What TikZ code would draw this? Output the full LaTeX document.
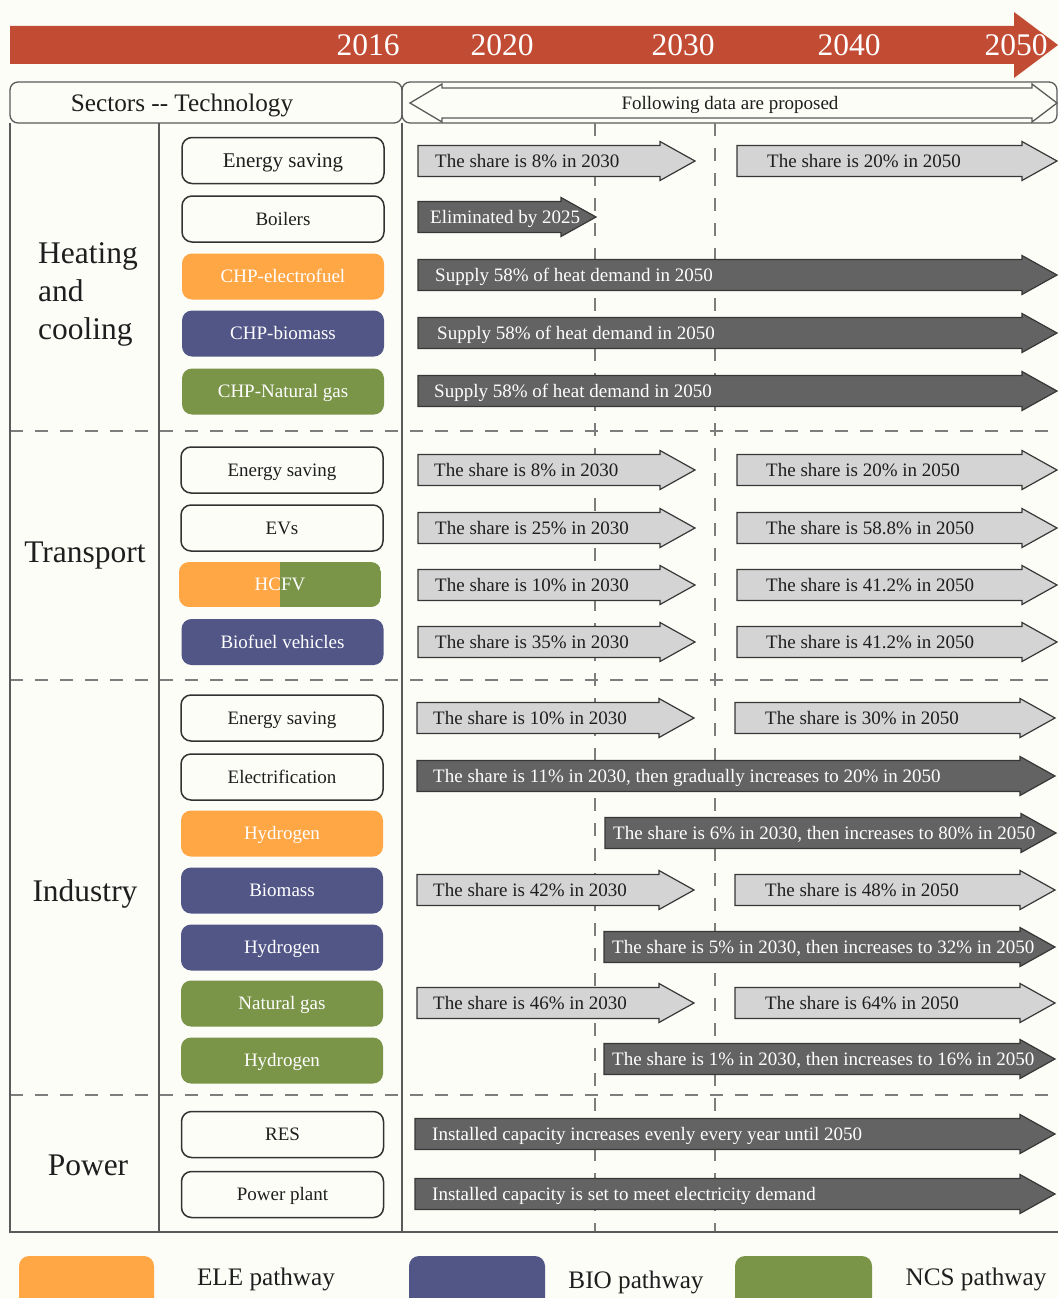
\documentclass[tikz,border=0pt]{standalone}
\usepackage{fontspec}
\setmainfont{Liberation Serif}
\definecolor{bgcol}{RGB}{253,253,248}
\definecolor{redcol}{RGB}{194,75,52}
\definecolor{framecol}{RGB}{90,90,90}
\definecolor{dashcol}{RGB}{125,125,125}
\definecolor{boxline}{RGB}{50,50,50}
\definecolor{elecol}{RGB}{255,166,69}
\definecolor{biocol}{RGB}{81,86,135}
\definecolor{ncscol}{RGB}{122,148,72}
\definecolor{lightfill}{RGB}{212,212,212}
\definecolor{darkfill}{RGB}{99,99,99}
\definecolor{arrline}{RGB}{55,55,55}
\definecolor{txtcol}{RGB}{30,30,30}
\newcommand{\dataArrow}[7]{%
  \draw[#2arr] (#3,#5-15.5) -- (#4-35,#5-15.5) -- (#4-35,#5-19.5) -- (#4,#5)
     -- (#4-35,#5+19.5) -- (#4-35,#5+15.5) -- (#3,#5+15.5) -- cycle;
  \node[#2txt] (#1) at (#6,#5+6.5) {#7};
}
\begin{document}
\begin{tikzpicture}[x=1pt,y=-1pt,
  frame/.style={draw=framecol, line width=1.3pt},
  griddash/.style={draw=dashcol, line width=2pt, dash pattern=on 13pt off 12pt},
  techbox/.style={rectangle, rounded corners=10pt, minimum width=202pt, minimum height=46pt,
     inner sep=0pt, font=\fontsize{19}{22}\selectfont, text height=12.5pt, text depth=0pt},
  whitebox/.style={techbox, draw=boxline, line width=1.5pt, fill=bgcol, text=txtcol},
  elebox/.style={techbox, fill=elecol, text=white},
  biobox/.style={techbox, fill=biocol, text=white},
  ncsbox/.style={techbox, fill=ncscol, text=white},
  lightarr/.style={fill=lightfill, draw=arrline, line width=1.2pt},
  darkarr/.style={fill=darkfill, draw=arrline, line width=1.2pt},
  lighttxt/.style={anchor=base west, inner sep=0pt, font=\fontsize{19}{22}\selectfont, text=txtcol},
  darktxt/.style={anchor=base west, inner sep=0pt, font=\fontsize{19}{22}\selectfont, text=white},
  yeartxt/.style={anchor=base, inner sep=0pt, font=\fontsize{31.5}{36}\selectfont, text=white},
  sectortxt/.style={inner sep=0pt, font=\fontsize{31.5}{38}\selectfont, text=txtcol},
  legtxt/.style={anchor=base, inner sep=0pt, font=\fontsize{25.2}{30}\selectfont, text=txtcol},
  legbox/.style={rounded corners=10pt}
]
\useasboundingbox (0,0) rectangle (1058,1298);
\fill[bgcol] (0,0) rectangle (1058,1298);

% timeline arrow
\fill[redcol] (10,26) -- (1014,26) -- (1014,12) -- (1058,45) -- (1014,78) -- (1014,64) -- (10,64) -- cycle;
\node[yeartxt] (y2016) at (368,56) {2016};
\node[yeartxt] (y2020) at (502,56) {2020};
\node[yeartxt] (y2030) at (683,56) {2030};
\node[yeartxt] (y2040) at (849,56) {2040};
\node[yeartxt] (y2050) at (1016,56) {2050};

% header
\draw[frame, rounded corners=8pt] (10,82) rectangle (402,123);
\draw[frame, rounded corners=8pt] (402,82) rectangle (1057,123);
\draw[frame, fill=bgcol] (410,103) -- (442,84) -- (442,88) -- (1032,88) -- (1032,84) -- (1057,103)
   -- (1032,122) -- (1032,118) -- (442,118) -- (442,122) -- cycle;
\node[anchor=base, inner sep=0pt, font=\fontsize{25.2}{30}\selectfont, text=txtcol] (hsec) at (182,111) {Sectors -{}- Technology};
\node[anchor=base, inner sep=0pt, font=\fontsize{19}{22}\selectfont, text=txtcol] (hdata) at (730,109.5) {Following data are proposed};

% dashed grid
\draw[griddash] (595,123) -- (595,1232);
\draw[griddash] (715,123) -- (715,1232);
\draw[griddash] (10,431) -- (1058,431);
\draw[griddash] (10,680) -- (1058,680);
\draw[griddash] (10,1095) -- (1058,1095);

% frame
\draw[frame] (10,123) -- (10,1232) -- (1058,1232);
\draw[frame] (159,123) -- (159,1232);
\draw[frame] (402,123) -- (402,1232);

% sector labels
\node[sectortxt, anchor=west, align=left] (sheat) at (38,294.6) {Heating\\and\\cooling};
\node[sectortxt, anchor=base] (strans) at (85,562) {Transport};
\node[sectortxt, anchor=base] (sind) at (85,901) {Industry};
\node[sectortxt, anchor=base] (spow) at (88,1175) {Power};

% technology boxes
\node[whitebox, font=\fontsize{21}{24}\selectfont, text height=13.8pt] (t1) at (283,160.5) {Energy saving};
\node[whitebox] (t2) at (283,219) {Boilers};
\node[elebox] (t3) at (283,276.5) {CHP-electrofuel};
\node[biobox] (t4) at (283,333.5) {CHP-biomass};
\node[ncsbox] (t5) at (283,391.5) {CHP-Natural gas};

\node[whitebox] (t6) at (282,470) {Energy saving};
\node[whitebox] (t7) at (282,528) {EVs};
\begin{scope}
  \clip[rounded corners=10pt] (179,562) rectangle (381,607);
  \fill[elecol] (179,562) rectangle (280,607);
  \fill[ncscol] (280,562) rectangle (381,607);
\end{scope}
\node[techbox, text=white] (t8) at (280,584.5) {HCFV};
\node[biobox] (t9) at (282.5,642) {Biofuel vehicles};

\node[whitebox] (t10) at (282,718) {Energy saving};
\node[whitebox] (t11) at (282,777) {Electrification};
\node[elebox] (t12) at (282,833.5) {Hydrogen};
\node[biobox] (t13) at (282,890.5) {Biomass};
\node[biobox] (t14) at (282,947.5) {Hydrogen};
\node[ncsbox] (t15) at (282,1003.5) {Natural gas};
\node[ncsbox] (t16) at (282,1060.5) {Hydrogen};

\node[whitebox] (t17) at (282.5,1134.5) {RES};
\node[whitebox] (t18) at (282.5,1194.5) {Power plant};

% data arrows: heating and cooling
\dataArrow{a1}{light}{418}{695}{161}{435}{The share is 8\% in 2030}
\dataArrow{a2}{light}{737}{1057}{161}{767}{The share is 20\% in 2050}
\dataArrow{a3}{dark}{418}{596}{217}{430}{Eliminated by 2025}
\dataArrow{a4}{dark}{418}{1057}{275}{435}{Supply 58\% of heat demand in 2050}
\dataArrow{a5}{dark}{418}{1057}{333}{437}{Supply 58\% of heat demand in 2050}
\dataArrow{a6}{dark}{418}{1057}{391}{434}{Supply 58\% of heat demand in 2050}
% transport
\dataArrow{a7}{light}{418}{695}{470}{434}{The share is 8\% in 2030}
\dataArrow{a8}{light}{737}{1057}{470}{766}{The share is 20\% in 2050}
\dataArrow{a9}{light}{418}{695}{528}{435}{The share is 25\% in 2030}
\dataArrow{a10}{light}{737}{1057}{528}{766}{The share is 58.8\% in 2050}
\dataArrow{a11}{light}{418}{695}{585}{435}{The share is 10\% in 2030}
\dataArrow{a12}{light}{737}{1057}{585}{766}{The share is 41.2\% in 2050}
\dataArrow{a13}{light}{418}{695}{642}{435}{The share is 35\% in 2030}
\dataArrow{a14}{light}{737}{1057}{642}{766}{The share is 41.2\% in 2050}
% industry
\dataArrow{a15}{light}{417}{694}{718}{433}{The share is 10\% in 2030}
\dataArrow{a16}{light}{735}{1055}{718}{765}{The share is 30\% in 2050}
\dataArrow{a17}{dark}{417}{1055}{776}{433}{The share is 11\% in 2030, then gradually increases to 20\% in 2050}
\dataArrow{a18}{dark}{605}{1056}{833}{613}{The share is 6\% in 2030, then increases to 80\% in 2050}
\dataArrow{a19}{light}{417}{694}{890}{433}{The share is 42\% in 2030}
\dataArrow{a20}{light}{735}{1055}{890}{765}{The share is 48\% in 2050}
\dataArrow{a21}{dark}{604}{1055}{947}{612}{The share is 5\% in 2030, then increases to 32\% in 2050}
\dataArrow{a22}{light}{417}{694}{1003}{433}{The share is 46\% in 2030}
\dataArrow{a23}{light}{735}{1055}{1003}{765}{The share is 64\% in 2050}
\dataArrow{a24}{dark}{604}{1055}{1059}{612}{The share is 1\% in 2030, then increases to 16\% in 2050}
% power
\dataArrow{a25}{dark}{415}{1055}{1134}{432}{Installed capacity increases evenly every year until 2050}
\dataArrow{a26}{dark}{415}{1055}{1194}{432}{Installed capacity is set to meet electricity demand}

% legend
\fill[elecol, legbox] (19,1256) rectangle (154,1312);
\fill[biocol, legbox] (409,1256) rectangle (545,1312);
\fill[ncscol, legbox] (735,1256) rectangle (872,1312);
\node[legtxt] (lele) at (266,1285) {ELE pathway};
\node[legtxt] (lbio) at (636,1288) {BIO pathway};
\node[legtxt] (lncs) at (976,1285) {NCS pathway};
\end{tikzpicture}
\end{document}
